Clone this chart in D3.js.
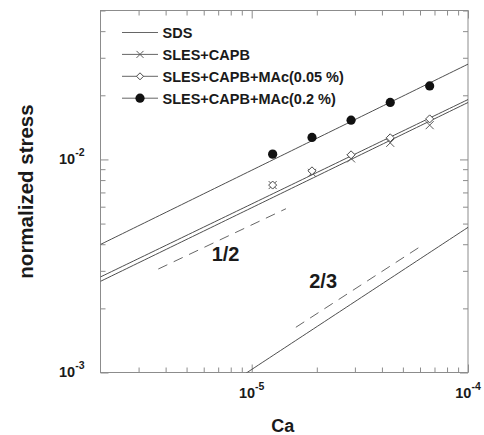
<!DOCTYPE html>
<html>
<head>
<meta charset="utf-8">
<script src="https://cdn.jsdelivr.net/npm/d3@7"></script>
<style>
  html, body { margin: 0; padding: 0; background: #fff; }
  svg { display: block; }
  text { font-family: "Liberation Sans", Arial, Helvetica, sans-serif; font-weight: bold; fill: #1a1a1a; }
</style>
</head>
<body>
<div id="chart"></div>
<script>
// Capillary number and measured normalized stress per surfactant system
const ca = [1.25e-5, 1.9e-5, 2.88e-5, 4.37e-5, 6.65e-5];
const stressSlesCapb = [0.00758, 0.00865, 0.01011, 0.01196, 0.01448];
const stressMac005 = [0.00758, 0.00884, 0.01051, 0.01263, 0.0155];
const stressMac02 = [0.01059, 0.01268, 0.01529, 0.01851, 0.02214];

// Power-law fits: stress = prefactor * (Ca / 1e-4) ^ exponent
const fitNames = ["SDS", "SLES+CAPB", "SLES+CAPB+MAc(0.05 %)", "SLES+CAPB+MAc(0.2 %)"];
const fitPrefactor = [0.0048, 0.0185, 0.0191, 0.028];
const fitExponent = [0.667, 0.494, 0.49, 0.498];

// Reference slope guides (dashed): start and end points in data units
const guideLabels = ["1/2", "2/3"];
const guideStart = [[3.7e-6, 0.00306], [1.6e-5, 0.00163]];
const guideEnd = [[1.44e-5, 0.00587], [5.95e-5, 0.00387]];
const guideLabelAt = [[7.57e-6, 0.00333], [2.14e-5, 0.0025]];

// Axis ticks
const xMajor = [1e-5, 1e-4];
const xMajorExp = ["-5", "-4"];
const xMinor = [3e-6, 4e-6, 5e-6, 6e-6, 7e-6, 8e-6, 9e-6, 2e-5, 3e-5, 4e-5, 5e-5, 6e-5, 7e-5, 8e-5, 9e-5];
const yMajor = [1e-3, 1e-2];
const yMajorExp = ["-3", "-2"];
const yMinor = [2e-3, 3e-3, 4e-3, 5e-3, 6e-3, 7e-3, 8e-3, 9e-3, 2e-2, 3e-2, 4e-2, 5e-2];

const W = 484, H = 435;
const plotLeft = 100.5, plotRight = 468, plotTop = 10.5, plotBottom = 372.5;

const x = d3.scaleLog().domain([2e-6, 1e-4]).range([plotLeft, plotRight]);
const y = d3.scaleLog().domain([1e-3, 5e-2]).range([plotBottom, plotTop]);

const svg = d3.select("#chart").append("svg").attr("width", W).attr("height", H);

svg.append("defs").append("clipPath").attr("id", "plot-clip")
  .append("rect").attr("x", plotLeft).attr("y", plotTop)
  .attr("width", plotRight - plotLeft).attr("height", plotBottom - plotTop);

const frameColor = "#8c8c8c";
const lineColor = "#3a3a3a";

// Ticks on all four sides, pointing inward
function tickSet(axisFn, scale, values, size, transform) {
  const g = svg.append("g").attr("transform", transform)
    .call(axisFn(scale).tickValues(values).tickSize(-size).tickFormat(""));
  g.select(".domain").remove();
  g.selectAll("line").attr("stroke", frameColor).attr("stroke-width", 1);
}
tickSet(d3.axisBottom, x, xMinor, 5, `translate(0,${plotBottom})`);
tickSet(d3.axisBottom, x, xMajor, 8, `translate(0,${plotBottom})`);
tickSet(d3.axisTop, x, xMinor, 5, `translate(0,${plotTop})`);
tickSet(d3.axisTop, x, xMajor, 8, `translate(0,${plotTop})`);
tickSet(d3.axisLeft, y, yMinor, 5, `translate(${plotLeft},0)`);
tickSet(d3.axisLeft, y, yMajor, 8, `translate(${plotLeft},0)`);
tickSet(d3.axisRight, y, yMinor, 5, `translate(${plotRight},0)`);
tickSet(d3.axisRight, y, yMajor, 8, `translate(${plotRight},0)`);

// Frame
svg.append("rect").attr("x", plotLeft).attr("y", plotTop)
  .attr("width", plotRight - plotLeft).attr("height", plotBottom - plotTop)
  .attr("fill", "none").attr("stroke", frameColor).attr("stroke-width", 1);

// Tick labels with exponent superscripts
xMajor.forEach((v, i) => {
  const t = svg.append("text").attr("x", x(v)).attr("y", plotBottom + 25.5)
    .attr("text-anchor", "middle").style("font-size", "14.5px");
  t.append("tspan").text("10");
  t.append("tspan").attr("dy", -8).style("font-size", "10.5px").text(xMajorExp[i]);
});
yMajor.forEach((v, i) => {
  const t = svg.append("text").attr("x", plotLeft - 16).attr("y", y(v) + 4.5)
    .attr("text-anchor", "end").style("font-size", "14.5px");
  t.append("tspan").text("10");
  t.append("tspan").attr("dy", -8).style("font-size", "10.5px").text(yMajorExp[i]);
});

// Axis titles
svg.append("text").attr("x", (plotLeft + plotRight) / 2 - 1.5).attr("y", 431.5)
  .attr("text-anchor", "middle").style("font-size", "18px").text("Ca");
svg.append("text").attr("transform", `translate(33,${(plotTop + plotBottom) / 2}) rotate(-90)`)
  .attr("text-anchor", "middle").style("font-size", "20.5px").text("normalized stress");

const plot = svg.append("g").attr("clip-path", "url(#plot-clip)");

// Fitted power laws across the whole Ca range
const [ca0, ca1] = x.domain();
const xs = d3.range(0, 101).map(k => Math.pow(10, Math.log10(ca0) + k * (Math.log10(ca1) - Math.log10(ca0)) / 100));
const line = d3.line().x(d => x(d[0])).y(d => y(d[1]));
fitNames.forEach((name, i) => {
  const pts = xs.map(v => [v, fitPrefactor[i] * Math.pow(v / 1e-4, fitExponent[i])]);
  plot.append("path").datum(pts).attr("d", line)
    .attr("fill", "none").attr("stroke", lineColor).attr("stroke-width", 0.9);
});

// Dashed slope guides and their labels
guideLabels.forEach((lab, i) => {
  plot.append("path").datum([guideStart[i], guideEnd[i]]).attr("d", line)
    .attr("fill", "none").attr("stroke", "#555").attr("stroke-width", 0.9)
    .attr("stroke-dasharray", "10,7");
  svg.append("text").attr("x", x(guideLabelAt[i][0])).attr("y", y(guideLabelAt[i][1]))
    .attr("text-anchor", "middle").style("font-size", "20px").text(lab);
});

// Marker shapes
function cross(g, cx, cy, r) {
  g.append("path").attr("d", `M${cx - r},${cy - r}L${cx + r},${cy + r}M${cx - r},${cy + r}L${cx + r},${cy - r}`)
    .attr("stroke", "#5a5a5a").attr("stroke-width", 1).attr("fill", "none");
}
function diamond(g, cx, cy, r) {
  g.append("path").attr("d", `M${cx},${cy - r}L${cx + r},${cy}L${cx},${cy + r}L${cx - r},${cy}Z`)
    .attr("stroke", "#4a4a4a").attr("stroke-width", 1).attr("fill", "#fff");
}
function dot(g, cx, cy, r) {
  g.append("circle").attr("cx", cx).attr("cy", cy).attr("r", r).attr("fill", "#111");
}

const marks = svg.append("g");
ca.forEach((c, i) => cross(marks, x(c), y(stressSlesCapb[i]), 4));
ca.forEach((c, i) => diamond(marks, x(c), y(stressMac005[i]), 4));
ca.forEach((c, i) => dot(marks, x(c), y(stressMac02[i]), 4.6));

// Legend
const legendMarkers = [null, cross, diamond, dot];
const legendSize = [0, 3.5, 3.5, 4.6];
fitNames.forEach((name, i) => {
  const ly = 32.5 + i * 21.9;
  svg.append("line").attr("x1", 122).attr("x2", 158).attr("y1", ly).attr("y2", ly)
    .attr("stroke", "#555").attr("stroke-width", 0.9);
  if (legendMarkers[i]) legendMarkers[i](svg, 140, ly, legendSize[i]);
  svg.append("text").attr("x", 162.5).attr("y", ly + 5.3).style("font-size", "14.5px").text(name);
});
</script>
</body>
</html>
